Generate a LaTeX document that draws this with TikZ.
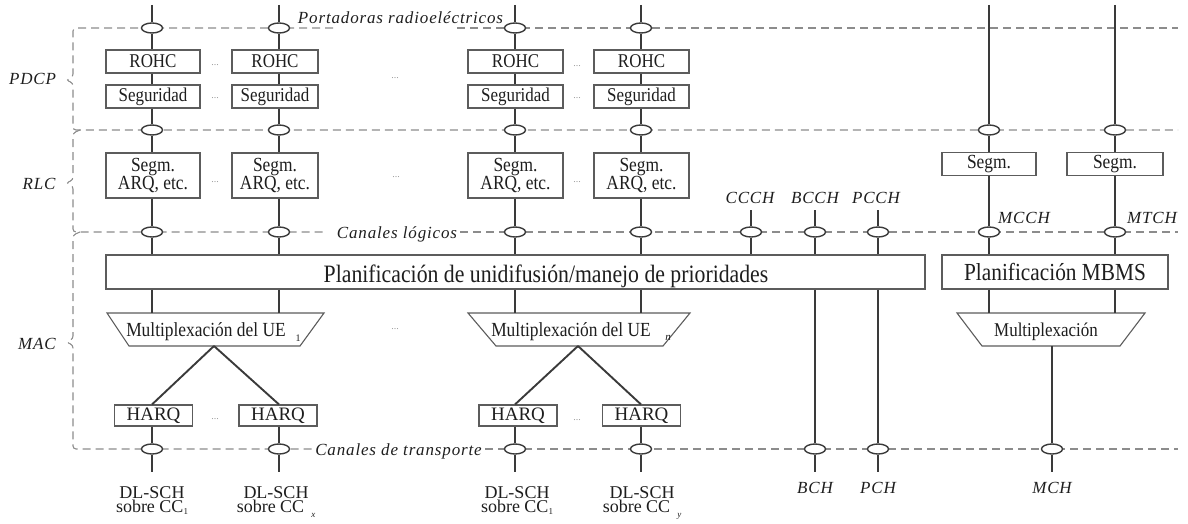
\documentclass[tikz,border=0pt]{standalone}
\usepackage{fontspec}
\setmainfont{Liberation Serif}
\newfontfamily\cond{Liberation Serif}[FakeStretch=0.87]
\newfontfamily\itl{Liberation Serif}[LetterSpace=5]
\usetikzlibrary{shapes.geometric}
\definecolor{txt}{HTML}{1E1E1E}
\definecolor{linec}{HTML}{3A3A3A}
\definecolor{boxc}{HTML}{5C5C5C}
\definecolor{dashc}{HTML}{8C8C8C}
\definecolor{dotc}{HTML}{9A9A9A}
\newcommand{\lowsub}[2]{\raisebox{-#1}{\fontsize{9}{9}\selectfont #2}}
\begin{document}
\begin{tikzpicture}[x=1pt, y=-1pt,
  box/.style={draw=boxc, line width=1.1, fill=white, inner sep=0, minimum height=23, text=txt, font=\cond\fontsize{19.5}{21}\selectfont},
  arq/.style={box, minimum height=45, align=center, font=\cond\fontsize{20}{15.5}\selectfont},
  harq/.style={box, minimum width=78, minimum height=21, font=\fontsize{19}{20}\selectfont},
  lab/.style={text=txt, inner sep=0, font=\itl\itshape\fontsize{17}{19}\selectfont},
  oval/.style={ellipse, draw=linec, line width=1.4, fill=white, minimum width=21, minimum height=10, inner sep=0},
  ln/.style={draw=linec, line width=1.9},
  dl/.style={draw=dashc, line width=1.1, dash pattern=on 8 off 5},
  dots/.style={text=dotc, inner sep=0, font=\fontsize{10}{10}\selectfont},
  bot/.style={text=txt, inner sep=0, align=center, font=\fontsize{18}{14}\selectfont},
  trap/.style={draw=boxc, line width=1.1, fill=white},
  muxt/.style={text=txt, inner sep=0, font=\cond\fontsize{20}{22}\selectfont},
  subs/.style={text=txt, inner sep=0, font=\fontsize{10}{10}\selectfont}
]
\useasboundingbox (0,0) rectangle (1188,524);

% ---- texts on the dashed lines
\node[lab, anchor=base] (port) at (400.5,24) {Portadoras radioeléctricos};
\node[lab, anchor=base] (canlog) at (397,238) {Canales lógicos};
\node[lab, anchor=base] (cantr) at (398.5,455) {Canales de transporte};

% ---- dashed lines and braces
\draw[dl, rounded corners=3] (333,28) -- (73,28) -- (73,77) -- (66,80) -- (73,83) -- (73,130) -- (1178,130);
\draw[dl, rounded corners=3] (80,130) -- (73,133) -- (73,180) -- (66,183) -- (73,186) -- (73,232) -- (325,232);
\draw[dl, rounded corners=3] (80,232) -- (73,235) -- (73,339) -- (66,342) -- (73,345) -- (73,449) -- (313,449);
\draw[dl] (457,28) -- (1178,28);
\draw[dl] (460,232) -- (1178,232);
\draw[dl] (485,449) -- (1178,449);

% ---- layer labels
\node[lab, anchor=base] (pdcp) at (32.5,85) {PDCP};
\node[lab, anchor=base] (rlc) at (39,189) {RLC};
\node[lab, anchor=base] (mac) at (37,349) {MAC};

% ---- scheduling boxes
\node[box, minimum width=819, minimum height=34] (sched) at (515.5,272) {};
\node[anchor=base, text=txt, inner sep=0, font=\cond\fontsize{25}{27}\selectfont] (schedt) at (546,282) {Planificación de unidifusión/manejo de prioridades};
\node[box, minimum width=226, minimum height=34, font=\cond\fontsize{24.5}{26}\selectfont] (mbms) at (1055,272) {Planificación MBMS};

% ---- multiplexing trapezoids
\coordinate (mtop) at (0,313);
\draw[trap] (107,313) -- (324,313) -- (300,346) -- (129,346) -- cycle;
\coordinate (m1b) at (214,346);
\node[muxt, anchor=base] (mux1) at (206,336) {Multiplexación del UE};
\node[subs] (mux1s) at (298,338) {1};
\draw[trap] (468,313) -- (690,313) -- (663,346) -- (496,346) -- cycle;
\coordinate (m2b) at (578,346);
\node[muxt, anchor=base] (mux2) at (571,336) {Multiplexación del UE};
\node[subs, font=\itshape\fontsize{11}{11}\selectfont] (mux2s) at (668,338) {n};
\draw[trap] (957,313) -- (1145,313) -- (1120,346) -- (982,346) -- cycle;
\coordinate (m3b) at (1052,346);
\node[muxt, anchor=base, font=\cond\fontsize{19.5}{22}\selectfont] (mux3) at (1046,336) {Multiplexación};

% ---- the four UE columns
\foreach \n/\x/\bx/\bw/\hx in {A/152/153/94/153.5, B/279/275/86/278, C/515/515.5/95/518, D/641/641.5/95/641.5}{
  \coordinate (t\n) at (\x,5);
  \node[oval] (p\n1) at (\x,28) {};
  \node[box, minimum width=\bw] (rohc\n) at (\bx,61.5) {ROHC};
  \node[box, minimum width=\bw] (seg\n) at (\bx,96.5) {Seguridad};
  \node[oval] (p\n2) at (\x,130) {};
  \node[arq, minimum width=\bw] (arq\n) at (\bx,175.5) {Segm.\\ARQ, etc.};
  \node[oval] (p\n3) at (\x,232) {};
  \node[harq] (harq\n) at (\hx,415.5) {HARQ};
  \node[oval] (p\n4) at (\x,449) {};
  \coordinate (e\n) at (\x,472);
  \draw[ln] (t\n) -- (p\n1);
  \draw[ln] (p\n1) -- (p\n1 |- rohc\n.north);
  \draw[ln] (rohc\n.south -| p\n1) -- (seg\n.north -| p\n1);
  \draw[ln] (seg\n.south -| p\n1) -- (p\n2);
  \draw[ln] (p\n2) -- (p\n2 |- arq\n.north);
  \draw[ln] (arq\n.south -| p\n2) -- (p\n3);
  \draw[ln] (p\n3) -- (p\n3 |- sched.north);
  \draw[ln] (sched.south -| p\n3) -- (p\n3 |- mtop);
  \draw[ln] (harq\n.south -| p\n4) -- (p\n4);
  \draw[ln] (p\n4) -- (e\n);
}
\draw[ln] (m1b) -- (harqA.north -| pA4);
\draw[ln] (m1b) -- (harqB.north -| pB4);
\draw[ln] (m2b) -- (harqC.north -| pC4);
\draw[ln] (m2b) -- (harqD.north -| pD4);

% ---- DL-SCH labels (base = baseline of the last line)
\node[bot, anchor=base] (dlA) at (152,512) {DL-SCH\\sobre CC\lowsub{2pt}{1}};
\node[bot, anchor=base] (dlB) at (276,512) {DL-SCH\\sobre CC\hspace{7pt}\lowsub{5pt}{\itshape x}};
\node[bot, anchor=base] (dlC) at (517,512) {DL-SCH\\sobre CC\lowsub{2pt}{1}};
\node[bot, anchor=base] (dlD) at (642,512) {DL-SCH\\sobre CC\hspace{7pt}\lowsub{5pt}{\itshape y}};

% ---- common control channels
\node[lab, anchor=base] (ccch) at (750,203) {CCCH};
\coordinate (tCC) at (751,210);
\node[oval] (pCC3) at (751,232) {};
\draw[ln] (tCC) -- (pCC3);
\draw[ln] (pCC3) -- (pCC3 |- sched.north);

\node[lab, anchor=base] (bcch) at (815,203) {BCCH};
\coordinate (tBC) at (815,210);
\node[oval] (pBC3) at (815,232) {};
\node[oval] (pBC4) at (815,449) {};
\coordinate (eBC) at (815,472);
\draw[ln] (tBC) -- (pBC3);
\draw[ln] (pBC3) -- (pBC3 |- sched.north);
\draw[ln] (sched.south -| pBC3) -- (pBC4);
\draw[ln] (pBC4) -- (eBC);
\node[lab, anchor=base] (bch) at (815,493) {BCH};

\node[lab, anchor=base] (pcch) at (876,203) {PCCH};
\coordinate (tPC) at (878,210);
\node[oval] (pPC3) at (878,232) {};
\node[oval] (pPC4) at (878,449) {};
\coordinate (ePC) at (878,472);
\draw[ln] (tPC) -- (pPC3);
\draw[ln] (pPC3) -- (pPC3 |- sched.north);
\draw[ln] (sched.south -| pPC3) -- (pPC4);
\draw[ln] (pPC4) -- (ePC);
\node[lab, anchor=base] (pch) at (878,493) {PCH};

% ---- MBMS side
\coordinate (tM) at (989,5);
\node[oval] (pM2) at (989,130) {};
\node[box, minimum width=94, minimum height=22.5, font=\cond\fontsize{20}{21}\selectfont] (sgM) at (989,164) {Segm.};
\node[oval] (pM3) at (989,232) {};
\node[lab, anchor=base] (mcch) at (1024,223) {MCCH};
\draw[ln] (tM) -- (pM2);
\draw[ln] (pM2) -- (pM2 |- sgM.north);
\draw[ln] (sgM.south -| pM2) -- (pM3);
\draw[ln] (pM3) -- (pM3 |- mbms.north);
\draw[ln] (mbms.south -| pM3) -- (pM3 |- mtop);

\coordinate (tT) at (1115,5);
\node[oval] (pT2) at (1115,130) {};
\node[box, minimum width=96, minimum height=22.5, font=\cond\fontsize{20}{21}\selectfont] (sgT) at (1115,164) {Segm.};
\node[oval] (pT3) at (1115,232) {};
\node[lab, anchor=base] (mtch) at (1152,223) {MTCH};
\draw[ln] (tT) -- (pT2);
\draw[ln] (pT2) -- (pT2 |- sgT.north);
\draw[ln] (sgT.south -| pT2) -- (pT3);
\draw[ln] (pT3) -- (pT3 |- mbms.north);
\draw[ln] (mbms.south -| pT3) -- (pT3 |- mtop);

\node[oval] (pH4) at (1052,449) {};
\coordinate (eH) at (1052,472);
\draw[ln] (m3b) -- (pH4);
\draw[ln] (pH4) -- (eH);
\node[lab, anchor=base] (mch) at (1052,493) {MCH};

% ---- ellipsis dots
\node[dots] (d1) at (215,65) {...};
\node[dots] (d2) at (215,98) {...};
\node[dots] (d3) at (577,66) {...};
\node[dots] (d4) at (577,98) {...};
\node[dots] (d5) at (395,78) {...};
\node[dots] (d6) at (215,182) {...};
\node[dots] (d7) at (577,182) {...};
\node[dots] (d8) at (396,177) {...};
\node[dots] (d9) at (395,329) {...};
\node[dots] (d10) at (215,419) {...};
\node[dots] (d11) at (577,420) {...};
\end{tikzpicture}
\end{document}
